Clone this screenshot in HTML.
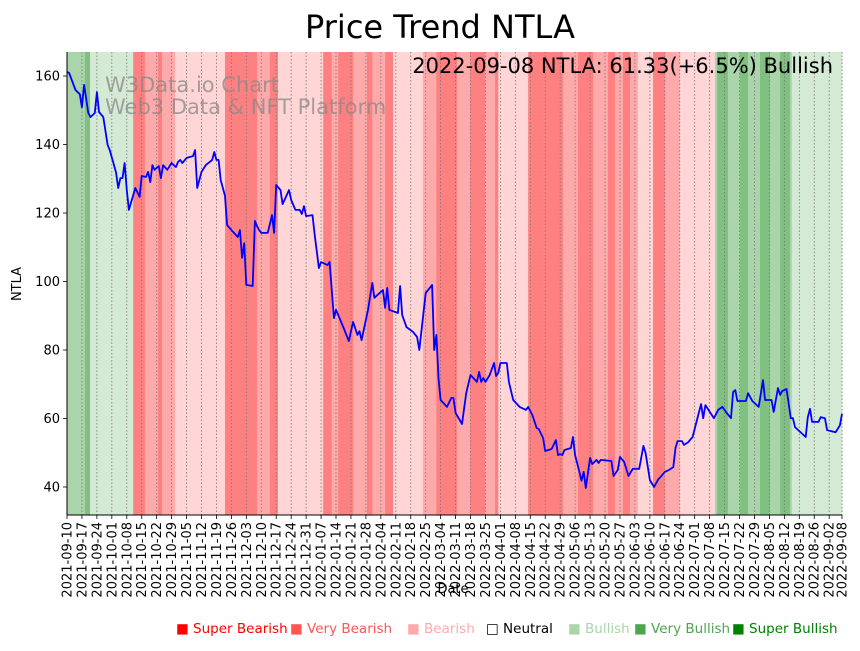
<!DOCTYPE html>
<html><head><meta charset="utf-8"><style>
body{margin:0;background:#fff;width:860px;height:646px;overflow:hidden;font-family:"Liberation Sans","DejaVu Sans",sans-serif}
svg text{font-family:"DejaVu Sans","Liberation Sans",sans-serif}
</style></head><body>
<svg id="chart" width="860" height="646" viewBox="0 0 860 646" xmlns="http://www.w3.org/2000/svg">
<text x="440" y="38" font-size="32" text-anchor="middle">Price Trend NTLA</text>
<g id="bands"></g>
<g id="grid"></g>
<text x="105" y="92" font-size="21" fill="#888" opacity="0.75">W3Data.io Chart</text>
<text x="105" y="114" font-size="21" fill="#888" opacity="0.75">Web3 Data &amp; NFT Platform</text>
<g id="series"></g>
<text x="833" y="73" font-size="21" text-anchor="end">2022-09-08 NTLA: 61.33(+6.5%) Bullish</text>
<g id="axes"></g>
<text transform="translate(21,284) rotate(-90)" font-size="13" text-anchor="middle">NTLA</text>
<text x="453" y="593" font-size="13" text-anchor="middle">Date</text>
<g id="legend"></g>
</svg>
<script>
const days=[0,1,4,6,7,8,10,11,13,14,15,17,19,20,22,23,24,25,26,27,28,29,32,34,35,37,38,39,40,41,43,44,45,47,49,51,52,53,54,56,59,60,61,63,65,68,69,70,71,72,74,75,77,80,81,82,83,84,87,88,89,90,91,94,96,97,98,100,101,104,105,107,109,110,111,112,115,116,118,119,122,123,125,126,128,130,132,134,136,137,138,141,143,144,146,148,149,150,151,155,156,157,159,162,164,165,168,171,172,173,174,175,178,180,181,182,185,187,189,192,193,194,195,196,198,200,201,202,203,206,207,209,212,215,216,218,220,221,223,224,227,229,230,231,232,233,236,237,238,240,241,242,243,245,246,248,249,250,255,256,258,259,261,263,265,268,270,271,273,275,277,278,280,282,284,285,286,288,289,291,293,296,297,298,299,303,305,307,309,311,312,313,314,318,319,321,324,326,327,330,331,333,334,335,337,339,340,341,346,347,348,349,352,353,355,356,360,362,363];
const prices=[161.2,160.9,155.9,154.7,150.9,157.4,149.2,148.0,149.2,155.3,149.5,148.0,139.9,138.4,134.0,131.7,127.3,130.2,130.2,134.6,126.7,120.9,127.3,124.7,130.8,130.5,132.0,129.0,134.0,132.6,133.7,130.2,134.0,132.6,134.6,133.4,134.9,135.5,134.6,136.1,136.6,138.4,127.3,132.0,134.0,135.5,137.8,135.5,135.5,129.6,125.0,116.5,115.0,113.0,115.0,106.9,111.2,99.0,98.7,117.7,116.2,115.0,114.2,114.2,119.4,114.2,128.2,126.7,122.6,126.7,123.8,120.9,120.9,119.7,122.0,119.1,119.4,113.6,103.9,105.7,104.8,105.7,89.3,91.7,88.8,85.8,82.6,88.2,84.4,85.5,82.9,91.7,99.6,95.2,96.4,97.5,92.3,98.1,91.7,90.8,98.7,90.2,86.7,85.3,83.8,80.0,96.6,99.0,80.0,84.4,71.8,65.4,63.4,66.0,66.0,61.6,58.4,67.4,72.7,70.7,73.6,70.7,71.8,70.7,72.7,76.2,72.4,73.3,76.2,76.2,70.7,65.4,63.4,62.5,63.4,61.0,57.2,56.9,54.3,50.5,51.1,53.7,49.3,49.6,49.3,50.8,51.4,54.6,49.3,44.4,41.8,44.4,39.7,48.5,46.7,47.9,47.0,47.9,47.6,43.2,45.0,48.8,47.3,43.2,45.3,45.3,52.0,49.9,42.0,40.0,42.3,42.9,44.4,45.0,45.8,51.4,53.4,53.4,52.3,53.1,54.6,61.9,64.2,60.1,63.9,60.1,62.5,63.4,61.6,60.1,67.7,68.3,65.1,65.1,67.4,65.1,63.4,71.2,65.4,65.4,61.9,68.9,66.9,68.0,68.6,60.1,60.1,57.5,54.6,60.4,62.8,59.0,59.0,60.4,60.1,56.6,56.0,58.0,61.33];
const bandStarts=[0,8.4,10.8,31,36.5,42.6,44.5,50.6,74,89,95,98.8,120,124,127,134,140.5,143,149,152.7,166.7,173,182.7,188.8,195.8,200.5,202,216,232.3,239.3,246.4,253.4,256.7,260.4,263.7,267.4,274.5,280,287,303.5,304.5,309.6,315.2,319,324.6,329.3,334,338.6,339.5];
const bandLevels=[2,3,1,-3,-2,-3,-2,-1,-3,-2,-3,-1,-3,-2,-3,-2,-3,-2,-3,-1,-2,-3,-2,-3,-2,-3,-1,-3,-2,-3,-2,-3,-2,-3,-2,-1,-3,-2,-1,2,3,2,3,2,3,2,3,2,1];
const yTicks=[40,60,80,100,120,140,160];
const legendLabels=["Super Bearish","Very Bearish","Bearish","Neutral","Bullish","Very Bullish","Super Bullish"];
const totalDays=363;
const startDate=new Date(Date.UTC(2021,8,10));

const NS="http://www.w3.org/2000/svg";
const L=67,R=842,T=52,B=515;
function xS(d){return L+(d/totalDays)*(R-L);}
function yS(v){return 76+(160-v)*(487-76)/120;}
function mk(tag,attrs,parent){const e=document.createElementNS(NS,tag);for(const k in attrs)e.setAttribute(k,attrs[k]);parent.appendChild(e);return e;}
const bandFill={"-3":"#ff8080","-2":"#ffaaaa","-1":"#ffd5d5","0":"#ffffff","1":"#d5ead5","2":"#aad4aa","3":"#80c080"};
const bandsG=document.getElementById('bands');
for(let i=0;i<bandStarts.length;i++){
  const s=bandStarts[i],e=i+1<bandStarts.length?bandStarts[i+1]:totalDays;
  const r=mk('rect',{x:xS(s),y:T,width:xS(e)-xS(s)+0.3,height:B-T,fill:bandFill[bandLevels[i]]},bandsG);
  
  
}
const gridG=document.getElementById('grid'),axesG=document.getElementById('axes');
const tickDays=[];for(let d=0;d<=357;d+=7)tickDays.push(d);tickDays.push(363);
tickDays.forEach(d=>{
  const x=xS(d);
  const gl=mk('line',{x1:x,x2:x,y1:T,y2:B,stroke:'#777','stroke-width':0.8,'stroke-dasharray':'1.5,2'},gridG);
  
  
  mk('line',{x1:x,x2:x,y1:B,y2:B+4,stroke:'#000','stroke-width':0.8},axesG);
  const dt=new Date(startDate.getTime()+d*86400000);
  const lab=dt.toISOString().slice(0,10);
  const t=mk('text',{transform:`translate(${x+4.5},${B+7}) rotate(-90)`,'font-size':13,'text-anchor':'end'},axesG);
  t.textContent=lab;
  
  
});
yTicks.forEach(v=>{
  const y=yS(v);
  mk('line',{x1:L-4,x2:L,y1:y,y2:y,stroke:'#000','stroke-width':0.8},axesG);
  const t=mk('text',{x:L-7,y:y+4.5,'font-size':13,'text-anchor':'end'},axesG);
  t.textContent=v;
  
  
});
mk('line',{x1:L,x2:L,y1:T,y2:B,stroke:'#000','stroke-width':1},axesG);
mk('line',{x1:L,x2:R,y1:B,y2:B,stroke:'#000','stroke-width':1},axesG);
const pts=days.map((d,i)=>xS(d).toFixed(1)+','+yS(prices[i]).toFixed(1)).join(' ');
const pl=mk('polyline',{points:pts,fill:'none',stroke:'#0000ff','stroke-width':1.8,'stroke-linejoin':'round'},document.getElementById('series'));


const legG=document.getElementById('legend');
const legX=[176,290,407,486,568,634,732];
const legCol=["#ff0000","#ff5555","#ffaaaa","#000000","#aad4aa","#4ca64c","#008000"];
legendLabels.forEach((lab,i)=>{
  const t=mk('text',{x:legX[i],y:633,'font-size':13.5,fill:legCol[i]},legG);
  t.textContent=(i===3?'□ ':'■ ')+lab;
  
  
});
</script>
</body></html>
